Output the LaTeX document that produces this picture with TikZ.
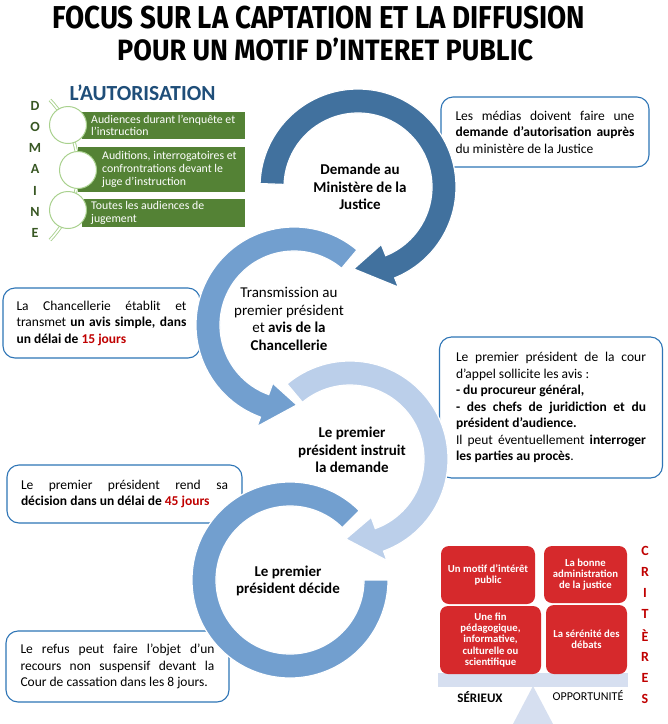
\documentclass[tikz,border=0pt]{standalone}
\usepackage{fontspec}
\usepackage{graphicx}
\setmainfont{Carlito}
\newfontfamily\titlefont{Fira Sans}
\hyphenpenalty=10000
\exhyphenpenalty=10000
\definecolor{ringA}{RGB}{65,113,158}
\definecolor{ringB}{RGB}{114,159,207}
\definecolor{ringC}{RGB}{187,207,234}
\definecolor{boxblue}{RGB}{46,117,182}
\definecolor{leaf}{RGB}{84,130,53}
\definecolor{leaflight}{RGB}{169,209,142}
\definecolor{domgreen}{RGB}{56,87,35}
\definecolor{navy}{RGB}{31,78,121}
\definecolor{critred}{RGB}{192,0,0}
\definecolor{boxred}{RGB}{214,41,44}
\definecolor{beam}{RGB}{214,223,240}
\tikzset{
  infobox/.style={draw=boxblue, line width=1.1pt, rounded corners=12pt, fill=white,
    align=justify, inner ysep=0pt, font=\fontsize{13.5}{16.5}\selectfont},
  ringtext/.style={align=center, text=black, font=\fontsize{15}{17.5}\selectfont},
  ringband/.style={draw=white, line width=1.2pt},
  greenbar/.style={fill=leaf, inner sep=0pt},
  greentext/.style={anchor=west, align=left, text=white, inner sep=0pt,
    font=\fontsize{11.8}{12.7}\selectfont},
  bullet/.style={circle, draw=leaflight, line width=1pt, fill=white, minimum size=37pt, inner sep=0pt},
  vletter/.style={font=\bfseries\fontsize{14}{14}\selectfont, inner sep=0pt},
  critbox/.style={fill=boxred, rounded corners=8pt, inner sep=0pt, align=center, text=white,
    font=\bfseries\fontsize{10.7}{11.3}\selectfont},
}
\begin{document}
\begin{tikzpicture}[x=1pt,y=-1pt]
\useasboundingbox[fill=white] (0,0) rectangle (668,724);

% title
\node[anchor=north west, inner sep=0pt] (title1) at (52,6)
  {\resizebox*{533pt}{23pt}{\titlefont\bfseries FOCUS SUR LA CAPTATION ET LA DIFFUSION}};
\node[anchor=north west, inner sep=0pt] (title2) at (117,38)
  {\resizebox*{416pt}{23pt}{\titlefont\bfseries POUR UN MOTIF D’INTERET PUBLIC}};

% autorisation block
\node[text=navy, font=\bfseries\fontsize{21.5}{21.5}\selectfont, inner sep=0pt] (auto) at (142.5,93) {L’AUTORISATION};
\node[greenbar, minimum width=163pt, minimum height=27pt] (g1) at (163.5,125.5) {};
\node[greenbar, minimum width=167pt, minimum height=45pt] (g2) at (161.5,169.5) {};
\node[greenbar, minimum width=163pt, minimum height=28pt] (g3) at (163.5,213) {};
\draw[draw=leaflight, line width=0.9pt, double=white, double distance=1.6pt]
  (-23.5,170) ++(-43.6:101.5) arc[start angle=-43.6, end angle=43.6, radius=101.5];
\node[bullet] (c1) at (68,125) {};
\node[bullet] (c2) at (78,170) {};
\node[bullet] (c3) at (68,210) {};
\node[greentext] (gt1) at (91,125.5) {Audiences durant l'enquête et\\l'instruction};
\node[greentext] (gt2) at (102,169.5) {Auditions, interrogatoires et\\confrontrations devant le\\juge d'instruction};
\node[greentext] (gt3) at (91,213) {Toutes les audiences de\\jugement};
\foreach \l/\yy in {D/106,O/127,M/148,A/169,I/191,N/212,E/233}
  \node[vletter, text=domgreen] (dom\l) at (35,\yy) {\l};

% info boxes
\node[infobox, text width=179pt, inner xsep=14.5pt, minimum height=70pt] (boxA) at (545,132)
  {Les médias doivent faire une\linebreak \textbf{demande d’autorisation auprès}\linebreak du ministère de la Justice};
\node[infobox, text width=170pt, inner xsep=13.5pt, minimum height=70pt] (boxB) at (101.5,323)
  {La Chancellerie établit et\linebreak transmet \textbf{un avis simple, dans}\linebreak \textbf{un délai de \textcolor{critred}{15 jours}}};
\node[infobox, text width=190pt, inner xsep=16.5pt, minimum height=141pt] (boxC) at (551,407.5)
  {Le premier président de la cour\linebreak d'appel sollicite les avis :\\
   \textbf{- du procureur général,}\\
   \textbf{- des chefs de juridiction et du}\linebreak \textbf{président d’audience.}\\
   Il peut éventuellement \textbf{interroger}\linebreak \textbf{les parties au procès}.};
\node[infobox, text width=207pt, inner xsep=14pt, minimum height=58pt] (boxD) at (124.5,494)
  {Le premier président rend sa\linebreak \textbf{décision dans un délai de \textcolor{critred}{45 jours}}};
\node[infobox, text width=194pt, inner xsep=14.5pt, minimum height=71pt] (boxE) at (117.5,666.5)
  {Le refus peut faire l’objet d’un\linebreak recours non suspensif devant la\linebreak Cour de cassation dans les 8 jours.};

% rings (drawn back to front)
\begin{scope}[shift={(290,580)}]
  \fill[ringB, ringband] (-45:98) arc[start angle=-45, end angle=-360, radius=98]
    -- (0:74) arc[start angle=-360, end angle=-45, radius=74] -- cycle;
\end{scope}
\begin{scope}[shift={(350,459)}]
  \fill[ringC, ringband] (-130:98) arc[start angle=-130, end angle=70, radius=98]
    -- (70:108) -- (93:80) -- (70:62) -- (70:74)
    arc[start angle=70, end angle=-130, radius=74] -- cycle;
\end{scope}
\begin{scope}[shift={(294,325)}]
  \fill[ringB, ringband] (-50:98) arc[start angle=-50, end angle=-250, radius=98]
    -- (-250:108) -- (-272:80) -- (-250:62) -- (-250:74)
    arc[start angle=-250, end angle=-50, radius=74] -- cycle;
\end{scope}
\begin{scope}[shift={(358,187)}]
  \fill[ringA, ringband] (-178:98) arc[start angle=-178, end angle=68, radius=98]
    -- (68:108) -- (93:82) -- (68:62) -- (68:74)
    arc[start angle=68, end angle=-178, radius=74] -- cycle;
\end{scope}

\node[ringtext] (step1) at (360,187) {\bfseries Demande au\\\bfseries Ministère de la\\\bfseries Justice};
\node[ringtext] (step2) at (289,319) {Transmission au\\premier président\\et \textbf{avis de la}\\\textbf{Chancellerie}};
\node[ringtext] (step3) at (352,450) {\bfseries Le premier\\\bfseries président instruit\\\bfseries la demande};
\node[ringtext] (step4) at (288,581) {\bfseries Le premier\\\bfseries président décide};

% criteria
\fill[beam] (438,673) rectangle (628,687);
\fill[beam] (533,686) -- (553,724) -- (513,724) -- cycle;
\node[critbox, minimum width=94pt, minimum height=58pt] (k1) at (488,575) {Un motif d'intérêt\\public};
\node[critbox, minimum width=83pt, minimum height=57pt] (k2) at (585.5,574.5) {La bonne\\administration\\de la justice};
\node[critbox, minimum width=101pt, minimum height=68pt] (k3) at (490.5,640) {Une fin\\pédagogique,\\informative,\\culturelle ou\\scientifique};
\node[critbox, minimum width=81pt, minimum height=69pt] (k4) at (586.5,639.5) {La sérénité des\\débats};
\node[font=\bfseries\fontsize{13}{14}\selectfont, inner sep=0pt] (serieux) at (480,697) {SÉRIEUX};
\node[font=\fontsize{12}{13}\selectfont, inner sep=0pt] (opport) at (588,696) {OPPORTUNITÉ};
\foreach \l/\yy [count=\i] in {C/551,R/572,I/593,T/614,È/636,R/657,E/678,S/699}
  \node[vletter, text=critred] (crit\i) at (645,\yy) {\l};
\end{tikzpicture}
\end{document}
